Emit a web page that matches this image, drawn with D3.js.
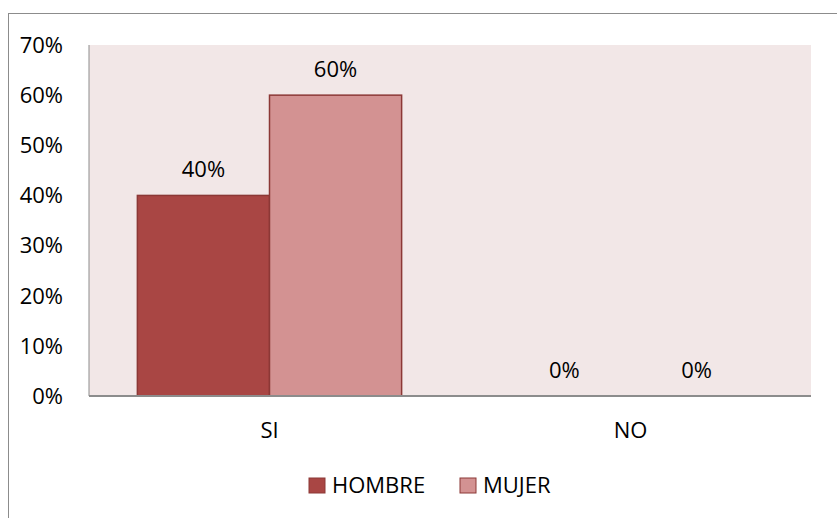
<!DOCTYPE html>
<html>
<head>
<meta charset="utf-8">
<script src="https://cdn.jsdelivr.net/npm/d3@7"></script>
<style>
  body { margin: 0; background: #fff; }
  text { font-family: "Open Sans", "Liberation Sans", sans-serif; fill: #000; }
</style>
</head>
<body>
<div id="chart"></div>
<script>
// Data
const categories = ["SI", "NO"];
const seriesNames = ["HOMBRE", "MUJER"];
const hombre = [0.40, 0.00];
const mujer = [0.60, 0.00];
const yTicks = [0, 0.1, 0.2, 0.3, 0.4, 0.5, 0.6, 0.7];

const colors = { HOMBRE: "#a94644", MUJER: "#d39292" };
const seriesValues = { HOMBRE: hombre, MUJER: mujer };

const width = 837, height = 518;
const plot = { left: 89, top: 45, right: 811, bottom: 396 };
const fontSize = "22px";

const svg = d3.select("#chart").append("svg")
    .attr("width", width)
    .attr("height", height);

// Outer chart border (runs past the right and bottom edges)
svg.append("rect")
    .attr("x", 8.5).attr("y", 13.5)
    .attr("width", 840).attr("height", 520)
    .attr("fill", "#fff")
    .attr("stroke", "#8c8c8c")
    .attr("stroke-width", 1);

// Plot background
svg.append("rect")
    .attr("x", plot.left).attr("y", plot.top)
    .attr("width", plot.right - plot.left)
    .attr("height", plot.bottom - plot.top)
    .attr("fill", "#f2e7e7");

const x0 = d3.scaleBand()
    .domain(categories)
    .range([plot.left, plot.right])
    .paddingInner(0.268)
    .paddingOuter(0.134);

const x1 = d3.scaleBand()
    .domain(seriesNames)
    .range([0, x0.bandwidth()]);

const y = d3.scaleLinear()
    .domain([0, 0.7])
    .range([plot.bottom, plot.top]);

// Y axis labels
svg.append("g").selectAll("text")
    .data(yTicks)
    .enter().append("text")
    .attr("x", 63)
    .attr("y", d => y(d))
    .attr("dy", "0.36em")
    .attr("text-anchor", "end")
    .style("font-size", fontSize)
    .text(d => d3.format(".0%")(d));

// Bars
const groups = svg.append("g").selectAll("g")
    .data(categories)
    .enter().append("g")
    .attr("transform", d => `translate(${x0(d)},0)`);

groups.selectAll("rect")
    .data((c, i) => seriesNames.map(s => ({ s, v: seriesValues[s][i] })))
    .enter().append("rect")
    .filter(d => d.v > 0)
    .attr("x", d => x1(d.s))
    .attr("y", d => y(d.v))
    .attr("width", x1.bandwidth())
    .attr("height", d => y(0) - y(d.v))
    .attr("fill", d => colors[d.s])
    .attr("stroke", "#8c3836")
    .attr("stroke-width", 1.5);

// Value labels
groups.selectAll("text")
    .data((c, i) => seriesNames.map(s => ({ s, v: seriesValues[s][i] })))
    .enter().append("text")
    .attr("x", d => x1(d.s) + x1.bandwidth() / 2)
    .attr("y", d => y(d.v) - 18)
    .attr("text-anchor", "middle")
    .style("font-size", fontSize)
    .text(d => d3.format(".0%")(d.v));

// Axis lines
svg.append("line")
    .attr("x1", plot.left).attr("x2", plot.left)
    .attr("y1", plot.top).attr("y2", plot.bottom)
    .attr("stroke", "#8c8c8c").attr("stroke-width", 1);
svg.append("line")
    .attr("x1", plot.left).attr("x2", plot.right)
    .attr("y1", plot.bottom).attr("y2", plot.bottom)
    .attr("stroke", "#8c8c8c").attr("stroke-width", 2);

// Category labels
svg.append("g").selectAll("text")
    .data(categories)
    .enter().append("text")
    .attr("x", d => x0(d) + x0.bandwidth() / 2)
    .attr("y", 438)
    .attr("text-anchor", "middle")
    .style("font-size", fontSize)
    .text(d => d);

// Legend
const legendX = [309, 460];
const legend = svg.append("g").selectAll("g")
    .data(seriesNames)
    .enter().append("g")
    .attr("transform", (d, i) => `translate(${legendX[i]},478)`);
legend.append("rect")
    .attr("width", 16).attr("height", 15)
    .attr("fill", d => colors[d])
    .attr("stroke", "#8c3836")
    .attr("stroke-width", 1);
legend.append("text")
    .attr("x", 23).attr("y", 15)
    .style("font-size", fontSize)
    .text(d => d);
</script>
</body>
</html>
